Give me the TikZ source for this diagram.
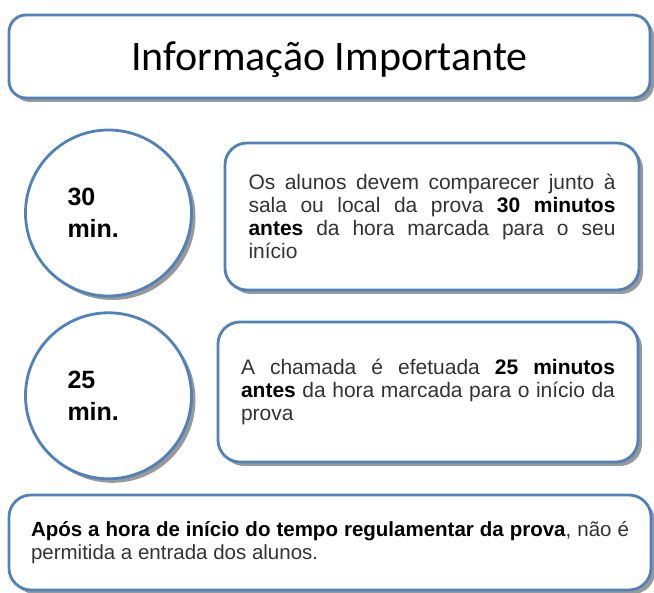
\documentclass[tikz,border=0pt]{standalone}
\usepackage{fontspec}
\setmainfont{Liberation Sans}
\newfontfamily\titlefont{Carlito}
\usetikzlibrary{positioning,shadows}
\definecolor{boxblue}{RGB}{79,129,189}
\definecolor{textgray}{RGB}{51,51,51}
\newcommand{\forte}[1]{{\color{black}\bfseries #1}}
\hyphenpenalty=10000

\begin{document}
\begin{tikzpicture}[x=1pt,y=-1pt,node distance=14pt]
  \tikzset{shade/.style={drop shadow={shadow xshift=4pt,shadow yshift=-4pt,fill=black!40,opacity=1}}}
  \tikzset{rounded/.style={draw=boxblue,line width=2.8pt,fill=white,rectangle,rounded corners=22pt,shade,
      text=textgray,align=justify,font=\fontsize{21}{23}\selectfont}}
  \tikzset{minute/.style={draw=boxblue,line width=2.8pt,fill=white,circle,minimum size=166pt,inner sep=0pt,shade,
      text width=82pt,align=left,font=\bfseries\fontsize{25}{32}\selectfont}}
  \useasboundingbox (0,0) rectangle (654,593);
  \node[rounded,rounded corners=17pt,minimum width=641pt,minimum height=83pt,text depth=0pt,
    text=black,align=center,font=\titlefont\fontsize{42}{48}\selectfont] (title) at (329.5,56.5) {Informação Importante};
  \node[minute,yshift=-2pt] (c30) at (108.5,211) {30\\min.};
  \node[minute,below=of c30] (c25) {25\\min.};
  \node[rounded,minimum width=414pt,minimum height=147pt,text width=367pt] (aviso30) at (432,216.5)
    {Os alunos devem comparecer junto à\linebreak sala ou local da prova \forte{30 minutos}\linebreak
     \forte{antes} da hora marcada para o seu\linebreak início};
  \node[rounded,minimum width=420pt,minimum height=140pt,text width=374pt] (aviso25) at (428,392)
    {A chamada é efetuada \forte{25 minutos}\linebreak \forte{antes} da hora marcada para o início da\linebreak prova};
  \node[rounded,minimum width=642pt,minimum height=95pt,text width=598pt,
    font=\fontsize{20.5}{23}\selectfont] (entrada) at (330,542.5)
    {\forte{Após a hora de início do tempo regulamentar da prova}, não é\linebreak permitida a entrada dos alunos.};
\end{tikzpicture}
\end{document}
